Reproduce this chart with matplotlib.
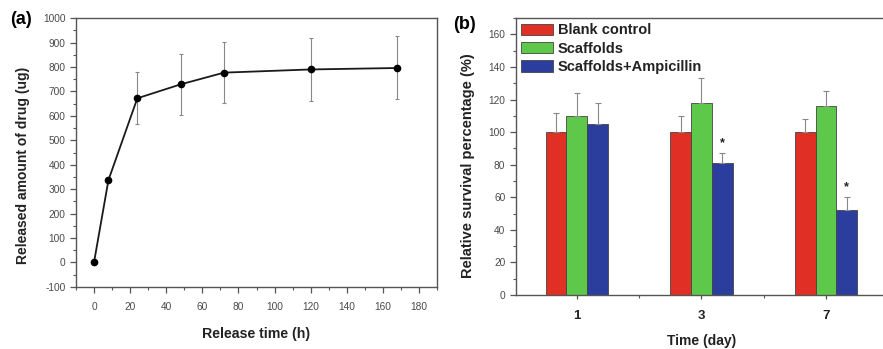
import matplotlib
matplotlib.use("Agg")
import matplotlib.pyplot as plt
import numpy as np
from matplotlib.ticker import MultipleLocator

plt.rcParams['font.family'] = ['Liberation Sans', 'DejaVu Sans']
plt.rcParams['axes.unicode_minus'] = False

# panel (a): cumulative drug release
release_time = [0, 8, 24, 48, 72, 120, 168]
released_amount = [0, 337, 672, 729, 777, 790, 796]
released_err = [0, 0, 106, 124, 124, 128, 129]

# panel (b): relative survival
days = ['1', '3', '7']
blank = [100, 100, 100]
blank_err = [12, 10, 8]
scaffolds = [110, 118, 116]
scaffolds_err = [14, 15, 9]
scaff_amp = [105, 81, 52]
scaff_amp_err = [13, 6, 8]
signif = ['', '*', '*']

spine_col = '#555555'
tick_col = '#4a4a4a'

fig = plt.figure(figsize=(8.83, 3.49), dpi=100)
ax1 = fig.add_axes([0.086, 0.178, 0.409, 0.770])
ax2 = fig.add_axes([0.584, 0.155, 0.422, 0.793])

for ax in (ax1, ax2):
    for s in ax.spines.values():
        s.set_color(spine_col)
        s.set_linewidth(1.0)
    ax.tick_params(which='both', direction='out', colors=spine_col,
                   labelcolor=tick_col, labelsize=7.3, top=False, right=False)
    ax.tick_params(which='major', length=4, width=0.9)
    ax.tick_params(which='minor', length=2.5, width=0.8)

# ---- (a)
ax1.errorbar(release_time, released_amount, yerr=released_err, fmt='none',
             ecolor='#888888', elinewidth=0.8, capsize=1.6, capthick=0.8)
ax1.plot(release_time, released_amount, color='#1a1a1a', lw=1.3,
         marker='o', ms=4.5, mfc='black', mec='black')
ax1.set_xlim(-10, 190)
ax1.set_ylim(-100, 1000)
ax1.xaxis.set_major_locator(MultipleLocator(20))
ax1.xaxis.set_minor_locator(MultipleLocator(10))
ax1.yaxis.set_major_locator(MultipleLocator(100))
ax1.yaxis.set_minor_locator(MultipleLocator(50))
ax1.tick_params(axis='x', pad=7)
ax1.set_xlabel('Release time (h)', fontsize=10.2, fontweight='bold', color='#222222')
ax1.set_ylabel('Released amount of drug (ug)', fontsize=10, fontweight='bold',
               color='#222222')
ax1.xaxis.set_label_coords(0.50, -0.15)
ax1.yaxis.set_label_coords(-0.128, 0.453)
fig.text(0.011, 0.945, '(a)', fontsize=13, fontweight='bold', va='center')

# ---- (b)
x = np.arange(len(days))
w = 0.167
kw = dict(edgecolor='#444444', linewidth=0.6)
ekw = dict(ecolor='#888888', elinewidth=0.8, capsize=2, capthick=0.8)
ax2.bar(x - w, blank, w, color='#e02f25', label='Blank control', **kw)
ax2.bar(x, scaffolds, w, color='#5ec84a', label='Scaffolds', **kw)
ax2.bar(x + w, scaff_amp, w, color='#2b3e9e', label='Scaffolds+Ampicillin', **kw)
ax2.errorbar(x - w, blank, yerr=[np.zeros(3), blank_err], fmt='none', **ekw)
ax2.errorbar(x, scaffolds, yerr=[np.zeros(3), scaffolds_err], fmt='none', **ekw)
ax2.errorbar(x + w, scaff_amp, yerr=[np.zeros(3), scaff_amp_err], fmt='none', **ekw)
for xi, v, e, s in zip(x, scaff_amp, scaff_amp_err, signif):
    if s:
        ax2.text(xi + w, v + e + 2.5, s, ha='center', va='bottom',
                 fontsize=9, fontweight='bold', color='#222222')
ax2.set_xlim(-0.49, 2.5)
ax2.set_ylim(0, 170)
ax2.set_xticks(x)
ax2.set_xticklabels(days, fontsize=9.5, fontweight='bold', color='#222222')
ax2.set_xticks([0.5, 1.5], minor=True)
ax2.yaxis.set_major_locator(MultipleLocator(20))
ax2.yaxis.set_minor_locator(MultipleLocator(10))
ax2.tick_params(axis='x', which='major', length=3, pad=8)
ax2.tick_params(axis='x', which='minor', length=2)
ax2.set_xlabel('Time (day)', fontsize=10, fontweight='bold', color='#222222')
ax2.set_ylabel('Relative survival percentage (%)', fontsize=10.5, fontweight='bold',
               color='#222222')
ax2.xaxis.set_label_coords(0.50, -0.143)
ax2.yaxis.set_label_coords(-0.11, 0.466)
ax2.legend(loc='upper left', bbox_to_anchor=(0.0, 1.0), frameon=False,
           prop={'size': 10.5, 'weight': 'bold'}, handlelength=2.2,
           handleheight=0.8, handletextpad=0.35, labelspacing=0.3,
           borderpad=0.25, borderaxespad=0.1, labelcolor='#222222')
fig.text(0.513, 0.931, '(b)', fontsize=13, fontweight='bold', va='center')

fig.savefig('out.png', dpi=100)
